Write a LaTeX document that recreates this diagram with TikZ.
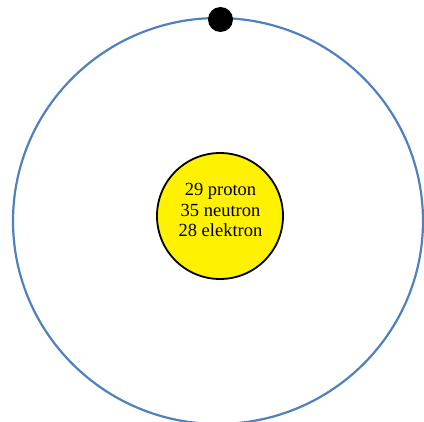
\documentclass[tikz,border=0pt]{standalone}
\usepackage{fontspec}
\setmainfont{Liberation Serif}
\definecolor{orbitblue}{HTML}{4F81BD}

\begin{document}
\begin{tikzpicture}[
  x=1pt, y=-1pt,
  orbit/.style={draw=orbitblue, line width=2.2pt},
  nucleus/.style={
    draw, circle, fill=yellow, line width=1.8pt,
    minimum size=126pt, inner sep=0pt
  },
  electron/.style={circle, fill=black, minimum size=25pt, inner sep=0pt},
  info/.style={font=\fontsize{18.5}{20.8}\selectfont, align=center, inner sep=0pt},
]

\useasboundingbox (0,0) rectangle (424,422);

\draw[orbit] (218,221) ellipse [x radius=205, y radius=203];

\node[nucleus]  (nuc)   at (220,216) {};
\node[info]     (count) at (220.5,210) {29 proton\\35 neutron\\28 elektron};

\node[electron] (elec)  at (220.5,19.5) {};

\end{tikzpicture}
\end{document}
